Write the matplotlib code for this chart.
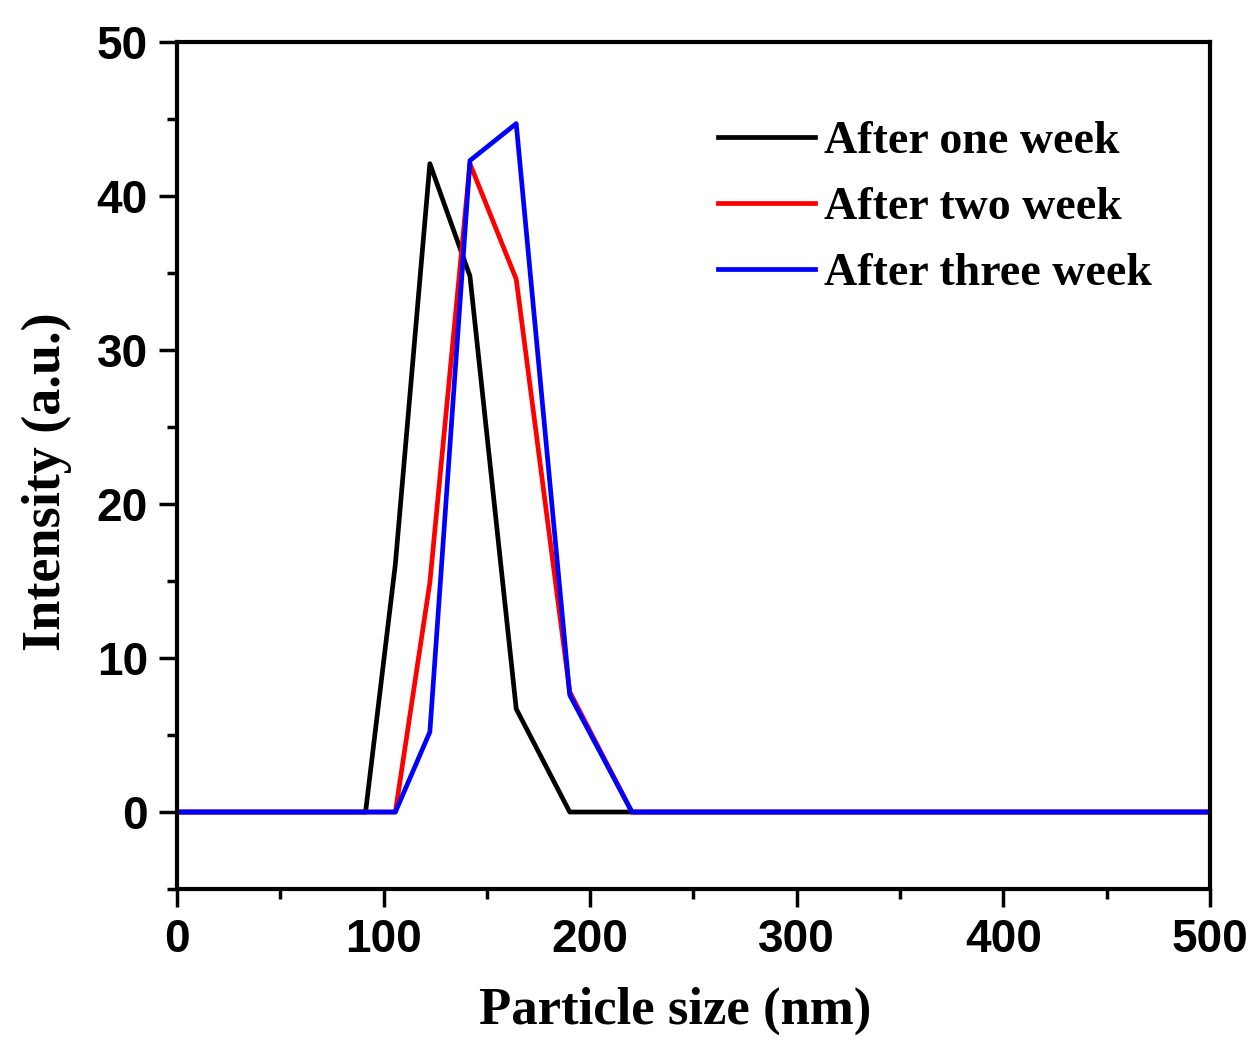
import numpy as np
import matplotlib
matplotlib.use("Agg")
import matplotlib.pyplot as plt
from matplotlib.ticker import MultipleLocator

# DLS size bins (nm) and intensity (a.u.)
sizes = [0.4, 68.06, 78.82, 91.28, 105.7, 122.4, 141.8, 164.2, 190.1,
         220.2, 255.0, 295.3, 342.0, 396.1, 458.7, 531.2]
week1 = [0, 0, 0, 0, 16.1, 42.1, 34.8, 6.7, 0, 0, 0, 0, 0, 0, 0, 0]
week2 = [0, 0, 0, 0, 0, 14.9, 42.1, 34.6, 7.8, 0, 0, 0, 0, 0, 0, 0]
week3 = [0, 0, 0, 0, 0, 5.2, 42.3, 44.7, 7.6, 0, 0, 0, 0, 0, 0, 0]

labels = ["After one week", "After two week", "After three week"]
colors = ["black", "red", "blue"]

fig = plt.figure(figsize=(12.57, 10.42), dpi=100)
ax = fig.add_axes([0.1408, 0.1468, 0.8218, 0.8129])

for ys, lab, c in zip([week1, week2, week3], labels, colors):
    ax.plot(sizes, ys, color=c, lw=3.4, label=lab)

ax.set_xlim(0, 500)
ax.set_ylim(-5, 50)
ax.xaxis.set_major_locator(MultipleLocator(100))
ax.xaxis.set_minor_locator(MultipleLocator(50))
ax.yaxis.set_major_locator(MultipleLocator(10))
ax.yaxis.set_minor_locator(MultipleLocator(5))
ax.set_yticks([0, 10, 20, 30, 40, 50])

for s in ax.spines.values():
    s.set_linewidth(3)

ax.tick_params(which="major", direction="out", length=13, width=2.5, pad=8,
               top=False, right=False)
ax.tick_params(which="minor", direction="out", length=7, width=2.5,
               top=False, right=False)

for t in ax.get_xticklabels() + ax.get_yticklabels():
    t.set_fontfamily("Liberation Sans")
    t.set_fontweight("bold")
    t.set_fontsize(33)

serif = {"family": "Liberation Serif", "weight": "bold"}
ax.set_xlabel("Particle size (nm)", fontsize=38, **serif)
ax.set_ylabel("Intensity (a.u.)", fontsize=39, **serif)
ax.xaxis.set_label_coords(0.482, -0.115)
ax.yaxis.set_label_coords(-0.102, 0.481)

leg = ax.legend(loc="upper left", bbox_to_anchor=(0.524, 0.907), frameon=False,
                prop={"family": "Liberation Serif", "weight": "bold", "size": 33},
                handlelength=2.1, handletextpad=0.2, labelspacing=0.52,
                borderpad=0, borderaxespad=0)

fig.savefig("out.png", dpi=100)
